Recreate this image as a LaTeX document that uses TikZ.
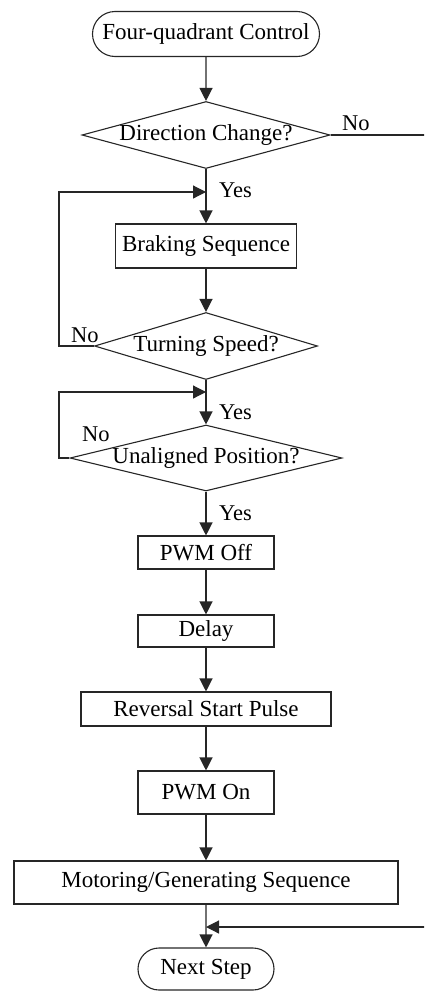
\documentclass[tikz,border=0pt]{standalone}
\usepackage{fontspec}
\setmainfont{Liberation Serif}
\usetikzlibrary{shapes.geometric,shapes.misc,arrows.meta}
\begin{document}
\begin{tikzpicture}[x=1pt,y=-1pt,
  flow/.style={line width=1.2pt, draw=black!85},
  arr/.style={flow, -{Triangle[length=13pt,width=13pt]}},
  txt/.style={font=\fontsize{23}{27}\selectfont},
  proc/.style={draw=black!85, line width=1.1pt, rectangle, inner sep=0pt, txt},
  term/.style={draw=black!85, line width=1.1pt, rounded rectangle, inner sep=0pt, txt},
  dec/.style={draw=black!85, line width=1.1pt, diamond, inner sep=0pt, txt},
  lbl/.style={inner sep=0pt, anchor=west, font=\fontsize{22.5}{26}\selectfont}
]
\useasboundingbox (0,0) rectangle (424,991);
\clip (0,0) rectangle (424,991);

% process chain
\node[term, minimum width=227pt, minimum height=45pt] (start) at (206,34) {Four-quadrant Control};
\node[dec, minimum width=248pt, minimum height=67pt] (d1) at (206,135) {\makebox[0pt]{Direction Change?}};
\node[proc, minimum width=181pt, minimum height=44pt] (brake) at (206,246) {Braking Sequence};
\node[dec, minimum width=223pt, minimum height=67pt] (d2) at (206,346) {\makebox[0pt]{Turning Speed?}};
\node[dec, minimum width=272pt, minimum height=66pt] (d3) at (206,458) {\makebox[0pt]{Unaligned Position?}};
\node[proc, minimum width=136pt, minimum height=33pt] (off) at (206,552.5) {PWM Off};
\node[proc, minimum width=136pt, minimum height=32pt] (delay) at (206,631) {Delay};
\node[proc, minimum width=250pt, minimum height=34pt] (rev) at (206,709) {Reversal Start Pulse};
\node[proc, minimum width=136pt, minimum height=43pt] (on) at (206,792.5) {PWM On};
\node[proc, minimum width=384pt, minimum height=43pt] (motor) at (206,882.5) {Motoring/Generating Sequence};
\node[term, minimum width=136pt, minimum height=42pt] (next) at (206,969) {Next Step};

% junctions and loop corners
\coordinate (j1) at (206,192);
\coordinate (j2) at (206,392);
\coordinate (j3) at (206,927);
\coordinate (lx) at (59,0);
\coordinate (rx) at (450,0);

% main flow
\draw[arr] (start) -- (d1);
\draw[arr] (d1.south) -- (brake.north);
\draw[arr] (brake) -- (d2);
\draw[arr] (d2.south) -- (d3.north);
\draw[arr] (d3.south) -- (off.north);
\draw[arr] (off) -- (delay);
\draw[arr] (delay) -- (rev);
\draw[arr] (rev) -- (on);
\draw[arr] (on) -- (motor);
\draw[arr] (motor) -- (next);

% feedback loops
\draw[arr] (d2.west) -- (d2.west -| lx) -- (lx |- j1) -- (j1);
\draw[arr] (d3.west) -- (d3.west -| lx) -- (lx |- j2) -- (j2);
\draw[arr] (d1.east) -- (d1.east -| rx) -- (rx |- j3) -- (j3);

% branch labels
\node[lbl] (n1) at (342,123) {No};
\node[lbl] (y1) at (219,190) {Yes};
\node[lbl] (n2) at (71,335) {No};
\node[lbl] (y2) at (219,412) {Yes};
\node[lbl] (n3) at (82,434) {No};
\node[lbl] (y3) at (219,513) {Yes};
\end{tikzpicture}
\end{document}
